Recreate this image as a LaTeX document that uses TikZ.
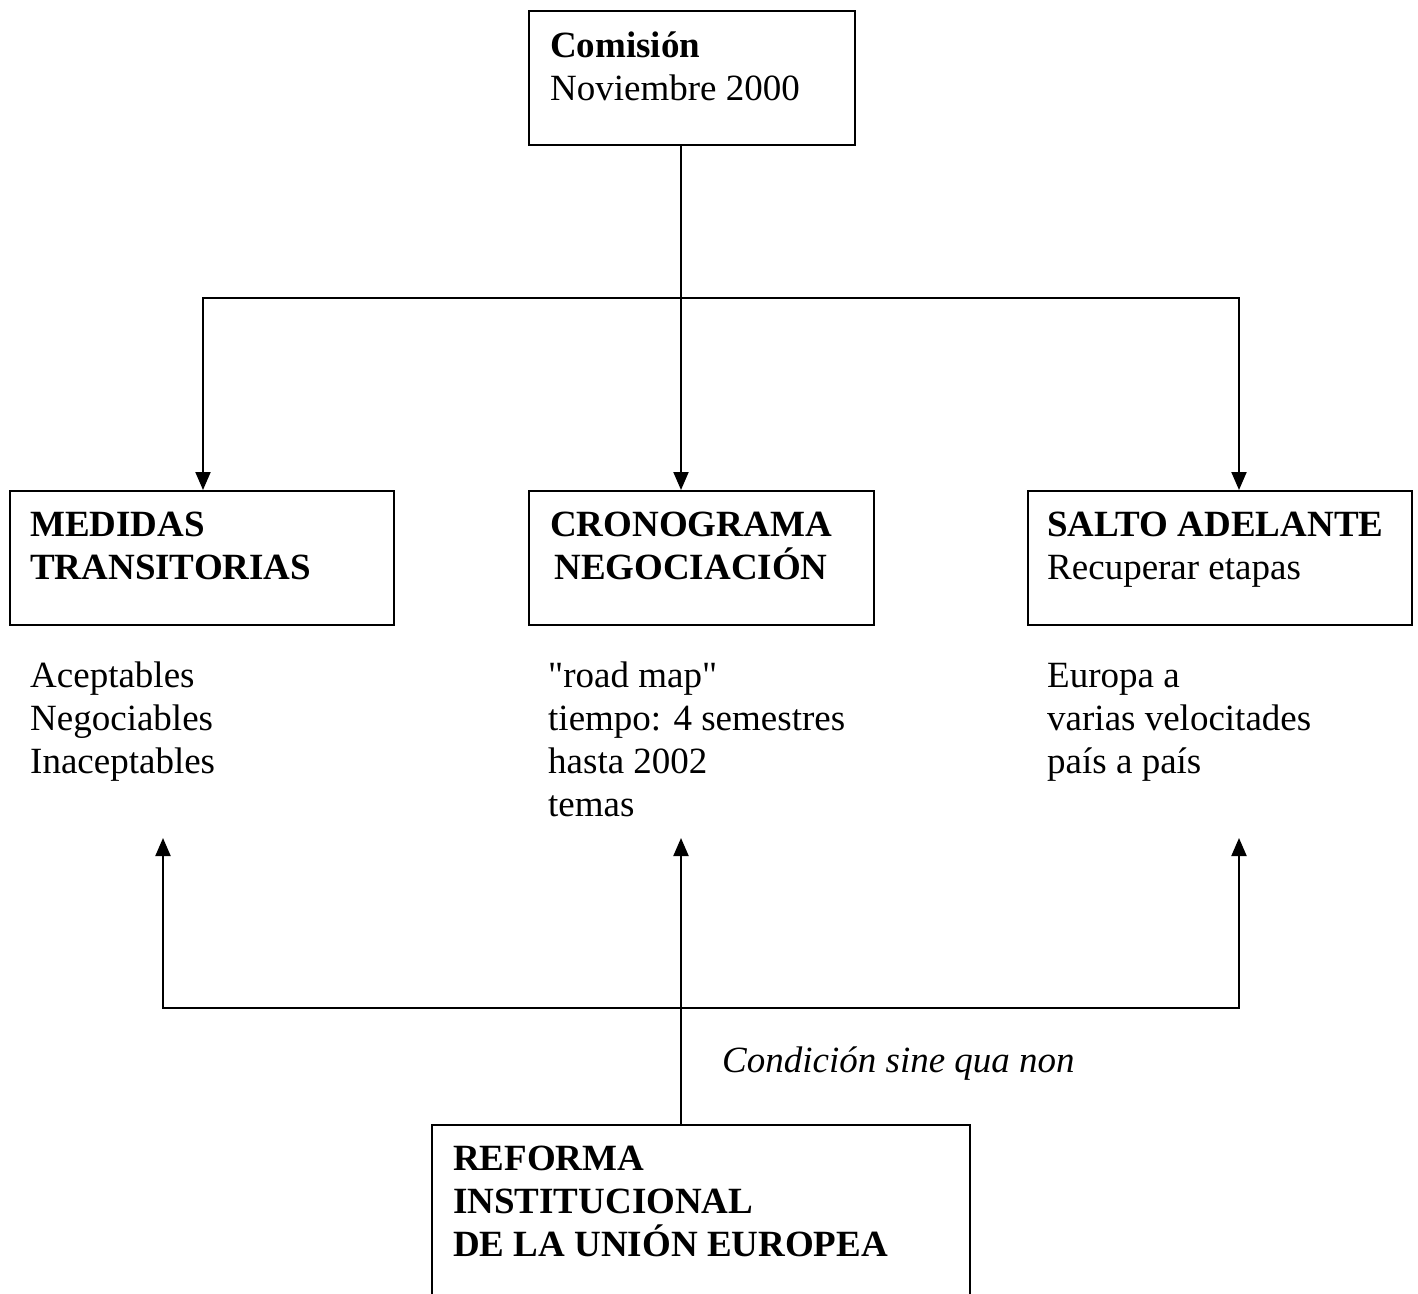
\documentclass[tikz,border=0pt]{standalone}
\usepackage{fontspec}
\setmainfont{Liberation Serif}
\usetikzlibrary{arrows.meta}

\begin{document}
\begin{tikzpicture}[x=1pt,y=-1pt]
  \def\BOXTOP{490}
  \def\BUS{298}
  \def\RETURN{1008}
  \def\TIPY{838}
  \def\XSPINE{681}
  \def\BASEHEAD{579}
  \def\BASELIST{773}

  \tikzset{
    box/.style={draw,line width=2pt,inner sep=0pt,anchor=north west},
    txt/.style={anchor=base west,align=left,inner sep=0pt,
      font=\fontsize{37}{43}\selectfont},
    wire/.style={line width=2pt},
    link/.style={wire,-{Triangle[width=15pt,length=18pt]}},
  }

  \useasboundingbox (0,0) rectangle (1418,1293);
  \clip (0,0) rectangle (1418,1293);

  % boxes
  \node [box,minimum width=326pt,minimum height=134pt] (comision) at (528,10) {};
  \node [box,minimum width=384pt,minimum height=134pt] (medidas) at (9,\BOXTOP) {};
  \node [box,minimum width=345pt,minimum height=134pt] (cronograma) at (528,\BOXTOP) {};
  \node [box,minimum width=384pt,minimum height=134pt] (salto) at (1027,\BOXTOP) {};
  \node [box,minimum width=538pt,minimum height=240pt] (reforma) at (431,1124) {};

  % texts (anchored on the baseline of the last line)
  \node [txt] (comisionT) at (550,100) {\textbf{Comisión}\\Noviembre 2000};
  \node [txt] (medidasT) at (30,\BASEHEAD) {\textbf{MEDIDAS}\\\textbf{TRANSITORIAS}};
  \node [txt,align=center] (cronogramaT) at (550,\BASEHEAD)
    {\textbf{CRONOGRAMA}\\\textbf{NEGOCIACIÓN}};
  \node [txt] (saltoT) at (1047,\BASEHEAD) {\textbf{SALTO ADELANTE}\\Recuperar etapas};
  \node [txt] (medidasL) at (30,\BASELIST) {Aceptables\\Negociables\\Inaceptables};
  \node [txt] (cronogramaL) at (548,816)
    {\textquotedbl road map\textquotedbl\\tiempo: 4 semestres\\hasta 2002\\temas};
  \node [txt] (saltoL) at (1047,\BASELIST) {Europa a\\varias velocitades\\país a país};
  \node [txt] (condicion) at (722,1072) {\textit{Condición sine qua non}};
  \node [txt] (reformaT) at (453,1256)
    {\textbf{REFORMA}\\\textbf{INSTITUCIONAL}\\\textbf{DE LA UNIÓN EUROPEA}};

  % top fan-out
  \coordinate (spine) at (\XSPINE,\BUS);
  \coordinate (busL) at (203,\BUS);
  \coordinate (busR) at (1239,\BUS);
  \draw [link] (comision.south -| spine) -- (cronograma.north -| spine);
  \draw [link] (spine) -- (busL) -- (medidas.north -| busL);
  \draw [link] (spine) -- (busR) -- (salto.north -| busR);

  % bottom feed-back
  \coordinate (ret) at (\XSPINE,\RETURN);
  \coordinate (retL) at (163,\RETURN);
  \coordinate (retR) at (1239,\RETURN);
  \coordinate (tipL) at (163,\TIPY);
  \coordinate (tipM) at (\XSPINE,\TIPY);
  \coordinate (tipR) at (1239,\TIPY);
  \draw [link] (reforma.north -| ret) -- (ret) -- (tipM);
  \draw [link] (ret) -- (retL) -- (tipL);
  \draw [link] (ret) -- (retR) -- (tipR);
\end{tikzpicture}
\end{document}
